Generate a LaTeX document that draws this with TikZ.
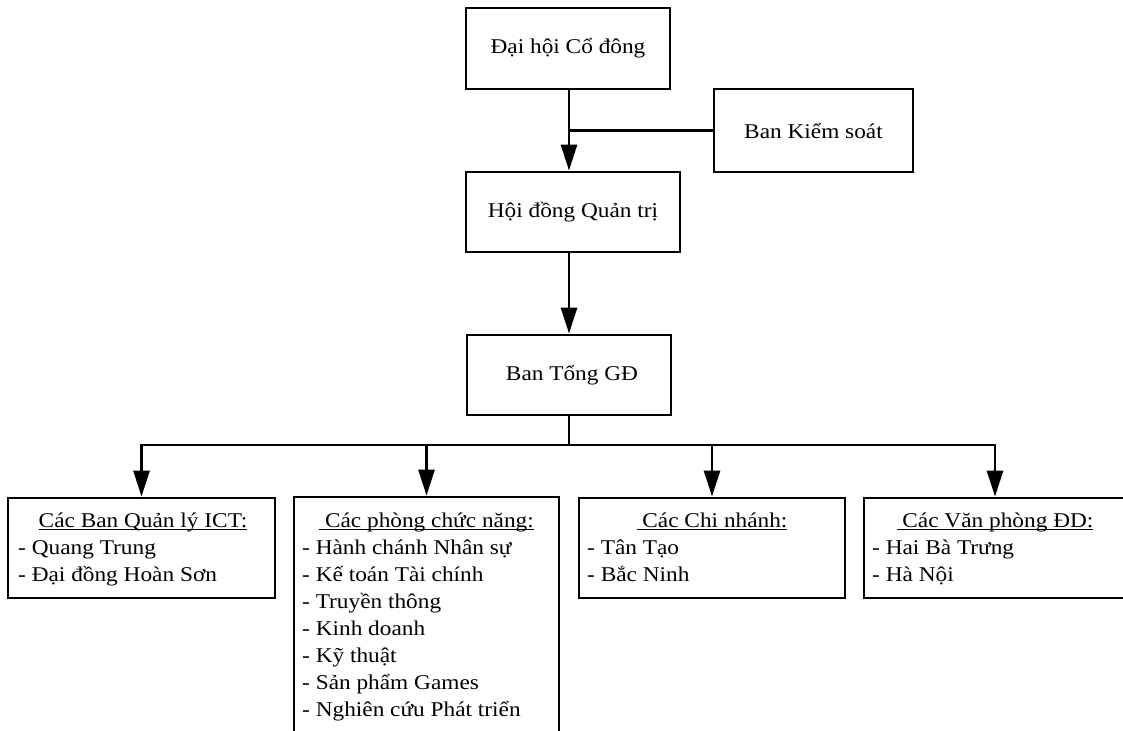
\documentclass[tikz,border=0pt]{standalone}
\usepackage{fontspec}
\setmainfont{Liberation Serif}[FakeStretch=1.11]
\usetikzlibrary{arrows.meta}
\newsavebox\myulbox
\newcommand\myul[1]{\sbox\myulbox{#1}\rlap{\rule[-3pt]{\wd\myulbox}{1.1pt}}\usebox\myulbox}
\tikzset{
  box/.style={draw, line width=2.8pt, rectangle, inner sep=0pt, align=center},
  conn/.style={line width=2.8pt},
  arr/.style={line width=2.8pt, -{Triangle[length=26pt,width=16pt]}},
  txt/.style={inner sep=0pt, anchor=base west},
  ttl/.style={inner sep=0pt, anchor=base},
}
\begin{document}
\begin{tikzpicture}[x=1pt, y=-1pt, font=\fontsize{21pt}{27pt}\selectfont]
\useasboundingbox (0,0) rectangle (1123,730);
\clip (0,0) rectangle (1123,730);
% upper boxes
\node[box, minimum width=204pt, minimum height=81pt] (dh) at (568,48.5) {Đại hội Cổ đông};
\node[box, minimum width=199pt, minimum height=83pt] (bks) at (813.5,130.5) {Ban Kiểm soát};
\node[box, minimum width=214pt, minimum height=80pt] (hdqt) at (573,212) {Hội đồng Quản trị};
\node[box, minimum width=204pt, minimum height=80pt] (btgd) at (569,375) {\hspace*{6pt}Ban Tổng GĐ};
% lower boxes
\node[box, minimum width=267pt, minimum height=100pt] (b1) at (141.5,548) {};
\node[box, minimum width=265pt, minimum height=263pt] (b2) at (426.5,628.5) {};
\node[box, minimum width=266pt, minimum height=100pt] (b3) at (712,548) {};
\node[box, minimum width=262pt, minimum height=100pt] (b4) at (995,548) {};
% texts box 1
\node[ttl] (b1t) at (143,527) {\myul{Các Ban Quản lý ICT:}};
\node[txt] (b1a) at (18,554) {- Quang Trung};
\node[txt] (b1b) at (18,581) {- Đại đồng Hoàn Sơn};
% texts box 2
\node[ttl] (b2t) at (426.5,527) {\myul{\ Các phòng chức năng:}};
\node[txt] (b2a) at (302,554) {- Hành chánh Nhân sự};
\node[txt] (b2b) at (302,581) {- Kế toán Tài chính};
\node[txt] (b2c) at (302,608) {- Truyền thông};
\node[txt] (b2d) at (302,635) {- Kinh doanh};
\node[txt] (b2e) at (302,662) {- Kỹ thuật};
\node[txt] (b2f) at (302,689) {- Sản phẩm Games};
\node[txt] (b2g) at (302,716) {- Nghiên cứu Phát triển};
% texts box 3
\node[ttl] (b3t) at (712,527) {\myul{\ Các Chi nhánh:}};
\node[txt] (b3a) at (587,554) {- Tân Tạo};
\node[txt] (b3b) at (587,581) {- Bắc Ninh};
% texts box 4
\node[ttl] (b4t) at (995,527) {\myul{\ Các Văn phòng ĐD:}};
\node[txt] (b4a) at (872,554) {- Hai Bà Trưng};
\node[txt] (b4b) at (872,581) {- Hà Nội};
% connectors
\draw[arr] (btgd.north |- dh.south) -- (btgd.north |- hdqt.north);
\draw[conn] (bks.west) -- (bks.west -| btgd.north);
\draw[arr] (btgd.north |- hdqt.south) -- (btgd.north);
\coordinate (bus) at (569,445);
\draw[conn] (btgd.south) -- (bus);
\draw[conn, line cap=rect] (b1.north |- bus) -- (b4.north |- bus);
\draw[arr] (b1.north |- bus) -- (b1.north);
\draw[arr] (b2.north |- bus) -- (b2.north);
\draw[arr] (b3.north |- bus) -- (b3.north);
\draw[arr] (b4.north |- bus) -- (b4.north);
\end{tikzpicture}
\end{document}
